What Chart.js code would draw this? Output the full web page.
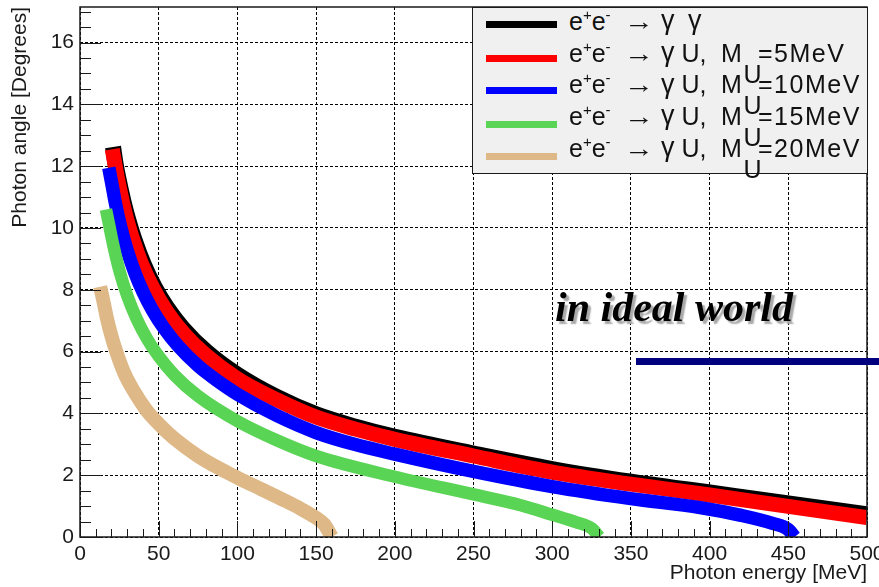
<!DOCTYPE html>
<html>
<head>
<meta charset="utf-8">
<title>Photon angle vs photon energy</title>
<script src="https://cdn.jsdelivr.net/npm/chart.js@4.4.1/dist/chart.umd.min.js"></script>
<style>
  html, body { margin: 0; padding: 0; background: #fff; }
  #stage { position: relative; width: 879px; height: 587px; overflow: hidden; font-family: "Liberation Sans", Arial, sans-serif; }
  #plot { position: absolute; left: 0; top: 0; }
  #legend { position: absolute; left: 472px; top: 7px; width: 396px; height: 167px; box-sizing: border-box;
            background: #f0f0f0; border: 1px solid #1a1a1a; color: #111; }
  #legend .seg { position: absolute; white-space: pre; line-height: 1; }
  #legend .sup { position: relative; top: -10px; font-size: 15px; }
  #legend .sw { position: absolute; height: 7px; width: 71px; }
  #caption { position: absolute; left: 555px; top: 286px; font: italic bold 42px "Liberation Serif", "Times New Roman", serif;
             line-height: 1; color: #000; text-shadow: 3px 3px 1.5px #a8a8a8; white-space: nowrap; }
  #rule { position: absolute; left: 636px; top: 358px; width: 243px; height: 7px; background: #00007f; }
</style>
</head>
<body>
<div id="stage">
  <canvas id="plot" width="879" height="587"></canvas>
  <div id="legend"></div>
  <div id="caption">in ideal world</div>
  <div id="rule"></div>
</div>
<script>
// Photon energy [MeV] and photon angle [deg] for each process
const energyGG  = [21, 22.5, 24.5, 27.5, 30.5, 34.5, 40.5, 47.5, 55.5, 65.5, 80.5, 100, 125, 150, 175, 200, 250, 300, 350, 400, 450, 500];
const angleGG   = [12.62, 12.11, 11.57, 10.88, 10.29, 9.63, 8.82, 8.08, 7.41, 6.75, 5.99, 5.25, 4.53, 3.97, 3.57, 3.24, 2.70, 2.20, 1.79, 1.44, 1.09, 0.73];

const energyU5  = [20.5, 22, 24, 27, 30, 34, 39, 46, 55, 66, 80, 100, 125, 150, 175, 200, 250, 300, 350, 400, 450, 500];
const angleU5   = [12.55, 12.11, 11.55, 10.83, 10.22, 9.55, 8.85, 8.08, 7.30, 6.58, 5.88, 5.12, 4.44, 3.88, 3.49, 3.16, 2.62, 2.10, 1.71, 1.36, 0.99, 0.63];

const energyU10 = [18.3, 20, 22.5, 26, 30, 35, 40, 46, 53, 62, 75, 88, 100, 125, 150, 175, 200, 250, 300, 350, 394, 420, 440, 450, 454];
const angleU10  = [11.95, 11.49, 10.80, 10.00, 9.27, 8.53, 7.93, 7.34, 6.78, 6.20, 5.54, 5.03, 4.62, 3.93, 3.38, 2.99, 2.68, 2.12, 1.63, 1.24, 0.95, 0.70, 0.44, 0.24, 0];

const energyU15 = [16.5, 18.5, 21, 25, 30, 36, 43, 50, 60, 75, 100, 125, 150, 200, 250, 280, 300, 315, 325, 330];
const angleU15  = [10.60, 10.10, 9.48, 8.63, 7.81, 7.06, 6.38, 5.85, 5.24, 4.56, 3.75, 3.13, 2.62, 1.95, 1.38, 1.03, 0.72, 0.48, 0.28, 0];

const energyU20 = [12.8, 15, 17, 20, 23, 28, 34, 42, 50, 60, 75, 90, 100, 115, 130, 140, 150, 155, 160];
const angleU20  = [8.10, 7.60, 7.10, 6.50, 6.00, 5.32, 4.74, 4.12, 3.66, 3.18, 2.62, 2.18, 1.92, 1.55, 1.18, 0.92, 0.62, 0.42, 0];

// Axis ranges and tick spacing
const energyRange = [0, 500];
const angleRange  = [0, 17.15];
const energyMajor = 50, energyMinor = 10;
const angleMajor  = 2,  angleMinor  = 0.5;

// Legend texts
const legendMasses = [null, '5MeV', '10MeV', '15MeV', '20MeV'];
const seriesLabels = ['e+e- → γγ', 'e+e- → γU, MU=5MeV', 'e+e- → γU, MU=10MeV', 'e+e- → γU, MU=15MeV', 'e+e- → γU, MU=20MeV'];
const seriesColors = ['#000000', '#ff0000', '#0000ff', '#59d454', '#deb887'];
const bandWidths   = [16, 15, 13.5, 12.5, 14];

const pairs = (xs, ys) => xs.map((x, i) => ({ x, y: ys[i] }));
const series = [
  pairs(energyGG, angleGG),
  pairs(energyU5, angleU5),
  pairs(energyU10, angleU10),
  pairs(energyU15, angleU15),
  pairs(energyU20, angleU20)
];

// Inner tick marks and frame in the style of a ROOT canvas
const rootFrame = {
  id: 'rootFrame',
  afterDatasetsDraw(chart) {
    const { ctx, chartArea: a, scales: { x, y } } = chart;
    ctx.save();
    ctx.strokeStyle = '#1a1a1a';
    ctx.lineWidth = 1;
    ctx.beginPath();
    for (let k = 0; k * energyMinor <= energyRange[1]; k++) {
      const v = k * energyMinor;
      const px = Math.round(x.getPixelForValue(v)) + 0.5;
      const len = (v % energyMajor === 0) ? 16 : 8;
      ctx.moveTo(px, a.bottom);
      ctx.lineTo(px, a.bottom - len);
    }
    for (let k = 0; k * angleMinor <= angleRange[1]; k++) {
      const v = k * angleMinor;
      const py = Math.round(y.getPixelForValue(v)) + 0.5;
      const len = (Math.abs(v % angleMajor) < 1e-9) ? 21 : 11;
      ctx.moveTo(a.left, py);
      ctx.lineTo(a.left + len, py);
    }
    ctx.stroke();
    ctx.lineWidth = 1.5;
    ctx.strokeRect(a.left, a.top, a.right - a.left, a.bottom - a.top);
    ctx.restore();
  }
};

const tickFont = { family: '"Liberation Sans", Arial, sans-serif', size: 21 };

const chart = new Chart(document.getElementById('plot'), {
  type: 'scatter',
  data: {
    datasets: series.map((pts, i) => ({
      label: seriesLabels[i],
      data: pts,
      showLine: true,
      borderColor: seriesColors[i],
      backgroundColor: seriesColors[i],
      borderWidth: bandWidths[i],
      borderCapStyle: 'butt',
      borderJoinStyle: 'round',
      cubicInterpolationMode: 'monotone',
      pointRadius: 0,
      pointHoverRadius: 0,
      clip: 0,
      order: series.length - i
    }))
  },
  options: {
    responsive: false,
    animation: false,
    devicePixelRatio: 1,
    layout: { padding: { left: 0, top: 7, right: 12, bottom: 0 } },
    plugins: { legend: { display: false }, tooltip: { enabled: false } },
    scales: {
      x: {
        type: 'linear',
        min: energyRange[0],
        max: energyRange[1],
        ticks: { stepSize: energyMajor, autoSkip: false, maxRotation: 0, padding: 5, color: '#1a1a1a', font: tickFont },
        grid: { color: '#000', lineWidth: 1, drawTicks: false },
        border: { display: false, dash: [3, 2] },
        title: { display: true, text: 'Photon energy [MeV]', align: 'end', color: '#1a1a1a', font: tickFont, padding: { top: 0, bottom: 1 } },
        afterFit(s) { s.height = 50; s.paddingLeft = 0; s.paddingRight = 0; }
      },
      y: {
        type: 'linear',
        min: angleRange[0],
        max: angleRange[1],
        ticks: { stepSize: angleMajor, autoSkip: false, padding: 6, color: '#1a1a1a', font: tickFont },
        afterBuildTicks(s) { s.ticks = s.ticks.filter(t => Math.abs(t.value % angleMajor) < 1e-9); },
        grid: { color: '#000', lineWidth: 1, drawTicks: false },
        border: { display: false, dash: [3, 2] },
        title: { display: true, text: 'Photon angle [Degrees]', align: 'end', color: '#1a1a1a', font: tickFont, padding: { top: 8, bottom: 0 } },
        afterFit(s) { s.width = 80; s.paddingTop = 0; s.paddingBottom = 0; }
      }
    }
  },
  plugins: [rootFrame]
});

// Legend box with sub- and superscripts
(function buildLegend() {
  const box = document.getElementById('legend');
  const OX = 473, OY = 8;
  const swatchCenters = [24.7, 58, 90.7, 124.3, 156.7];
  const baselines = [30, 61.7, 93.4, 125.1, 156.8];
  function seg(html, x, baseline, size, extra) {
    const s = document.createElement('span');
    s.className = 'seg';
    s.innerHTML = html;
    s.style.left = (x - OX) + 'px';
    s.style.top = (baseline - 0.8465 * size - OY) + 'px';
    s.style.fontSize = size + 'px';
    if (extra) s.style.cssText += extra;
    box.appendChild(s);
  }
  chart.data.datasets.forEach((ds, i) => {
    const sw = document.createElement('div');
    sw.className = 'sw';
    sw.style.left = (486 - OX) + 'px';
    sw.style.top = (swatchCenters[i] - 3.5 - OY) + 'px';
    sw.style.background = ds.borderColor;
    box.appendChild(sw);

    const b = baselines[i];
    seg('e<span class="sup">+</span>e<span class="sup">-</span>', 569, b, 25);
    seg('→', 624, b, 25, 'transform:scaleX(1.2);transform-origin:0 0;');
    seg('γ', 661, b, 27);
    if (legendMasses[i] === null) {
      seg('γ', 688, b, 27);
    } else {
      seg('U,', 681.5, b, 25);
      seg('M', 721, b, 25);
      seg('U', 743.5, b + 21, 25);
      seg('=' + legendMasses[i], 758, b, 25, 'letter-spacing:1.5px;');
    }
  });
})();
</script>
</body>
</html>
